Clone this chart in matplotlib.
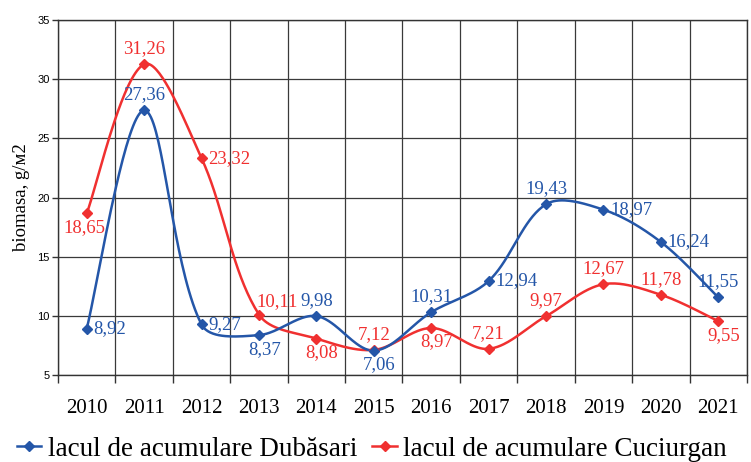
import numpy as np
import matplotlib
matplotlib.use("Agg")
import matplotlib.pyplot as plt
from matplotlib.lines import Line2D

years = ["2010", "2011", "2012", "2013", "2014", "2015", "2016", "2017", "2018", "2019", "2020", "2021"]
dubasari = [8.92, 27.36, 9.27, 8.37, 9.98, 7.06, 10.31, 12.94, 19.43, 18.97, 16.24, 11.55]
cuciurgan = [18.65, 31.26, 23.32, 10.11, 8.08, 7.12, 8.97, 7.21, 9.97, 12.67, 11.78, 9.55]
name_d = "lacul de acumulare Dubăsari"
name_c = "lacul de acumulare Cuciurgan"
yticks = [5, 10, 15, 20, 25, 30, 35]

# label placement: 'r' right, 'a' above, 'b' below, 'bl' below (slightly left)
pos_d = ['r', 'a', 'r', 'b', 'a', 'b', 'a', 'r', 'a', 'r', 'r', 'a']
pos_c = ['bl', 'a', 'r', 'ar', 'b', 'a', 'b', 'a', 'a', 'a', 'a', 'b']

BLUE = "#2456a8"
RED = "#f03030"
SERIF = ["Liberation Serif", "DejaVu Serif"]

XS, YS = 57.4, 11.83  # approx pixels per category / per unit, for Excel-like smoothing


def smooth(xs, ys, n=40):
    P = np.column_stack([np.asarray(xs, float) * XS, np.asarray(ys, float) * YS])
    m = len(P)
    d = np.linalg.norm(np.diff(P, axis=0), axis=1)
    cout = np.zeros_like(P)
    cin = np.zeros_like(P)
    s = 1.0 / 3.0
    for i in range(m):
        if i == 0:
            cout[i] = P[0] + (P[1] - P[0]) / 6.0
            continue
        if i == m - 1:
            cin[i] = P[i] - (P[i] - P[i - 1]) / 6.0
            continue
        T = P[i + 1] - P[i - 1]
        a, b = d[i - 1], d[i]
        cout[i] = P[i] + T * s * b / (a + b)
        cin[i] = P[i] - T * s * a / (a + b)
    out = []
    t = np.linspace(0, 1, n)[:, None]
    for i in range(m - 1):
        p1, c1, c2, p2 = P[i], cout[i], cin[i + 1], P[i + 1]
        seg = ((1 - t) ** 3) * p1 + 3 * ((1 - t) ** 2) * t * c1 + 3 * (1 - t) * t ** 2 * c2 + t ** 3 * p2
        out.append(seg if i == 0 else seg[1:])
    out = np.vstack(out)
    return out[:, 0] / XS, out[:, 1] / YS


fig = plt.figure(figsize=(7.51, 4.62), dpi=100)
ax = fig.add_axes([58 / 751, 87 / 462, 689 / 751, 355 / 462])

x = np.arange(len(years))
for vals, col, pos in [(cuciurgan, RED, pos_c), (dubasari, BLUE, pos_d)]:
    sx, sy = smooth(x, vals)
    ax.plot(sx, sy, color=col, lw=1.8, zorder=3)
    ax.plot(x, vals, ls='none', marker='D', ms=5, color=col, zorder=4)
    for xi, v, p in zip(x, vals, pos):
        lab = f"{v:.2f}".replace('.', ',')
        kw = dict(textcoords='offset points', color=col, fontsize=13.5, family=SERIF)
        if p == 'r':
            ax.annotate(lab, (xi, v), xytext=(5, 0), ha='left', va='center', **kw)
        elif p == 'a':
            ax.annotate(lab, (xi, v), xytext=(0, 5), ha='center', va='bottom', **kw)
        elif p == 'ar':
            ax.annotate(lab, (xi, v), xytext=(-2, 3), ha='left', va='bottom', **kw)
        elif p == 'bl':
            ax.annotate(lab, (xi, v), xytext=(-2, -4), ha='center', va='top', **kw)
        else:
            ax.annotate(lab, (xi, v), xytext=(4, -4), ha='center', va='top', **kw)

ax.set_xlim(-0.5, len(years) - 0.5)
ax.set_ylim(5, 35)
ax.set_yticks(yticks)
ax.set_yticklabels([str(t) for t in yticks], fontsize=8, family=["Liberation Sans"])
ax.set_xticks(np.arange(-0.5, len(years), 1.0))
ax.set_xticklabels([])
ax.set_xticks(x, minor=True)
ax.set_xticklabels(years, minor=True, fontsize=15, family=SERIF)
ax.tick_params(axis='x', which='major', length=6, width=1, color='#333333', direction='out')
ax.tick_params(axis='x', which='minor', length=0, pad=17)
ax.tick_params(axis='y', length=4, width=1, color='#333333', pad=2)
ax.grid(True, which='major', color='#3a3a3a', lw=0.9)
ax.set_axisbelow(True)
for s in ax.spines.values():
    s.set_color('#333333')
    s.set_linewidth(1)

ax.set_ylabel("biomasa, g/м2", fontsize=13.5, family=SERIF, labelpad=5)

handles = [Line2D([], [], color=BLUE, marker='D', ms=5, lw=1.8),
           Line2D([], [], color=RED, marker='D', ms=5, lw=1.8)]
fig.legend(handles, [name_d, name_c], loc='center', ncol=2, frameon=False,
           bbox_to_anchor=(372 / 751, 1 - 449 / 462), prop={'family': SERIF, 'size': 19.5},
           handlelength=0.9, handletextpad=0.25, columnspacing=0.55,
           borderpad=0, borderaxespad=0)

fig.savefig("out.png", dpi=100)
